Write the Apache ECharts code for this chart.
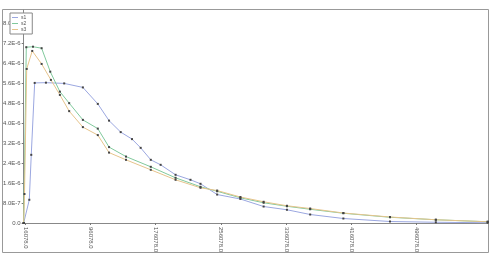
<!DOCTYPE html>
<html>
<head>
<meta charset="utf-8">
<script src="https://cdn.jsdelivr.net/npm/echarts@6/dist/echarts.min.js"></script>
<style>
  html, body { margin: 0; padding: 0; background: #fff; }
  #chart { width: 499px; height: 268px; }
</style>
</head>
<body>
<div id="chart"></div>
<script>
'use strict';

// tick positions on the x axis
var xTicks = [16078, 96078, 176078, 256078, 336078, 416078, 496078];

// series points, [x, y]
var s1 = [
    [14100, 0], [21000, 9.3e-7], [23400, 2.73e-6], [27600, 5.61e-6], [41400, 5.62e-6],
    [63800, 5.59e-6], [86700, 5.43e-6], [105000, 4.77e-6], [118800, 4.10e-6],
    [133100, 3.64e-6], [147000, 3.36e-6], [157600, 3.01e-6], [170000, 2.53e-6],
    [182100, 2.33e-6], [200400, 1.93e-6], [218700, 1.73e-6], [231000, 1.57e-6],
    [251400, 1.14e-6], [279900, 9.6e-7], [308400, 6.6e-7], [337000, 5.3e-7],
    [365500, 3.4e-7], [406200, 1.8e-7], [463400, 6e-8], [519600, 3e-8], [583200, 1e-8]
];
var s2 = [
    [14100, 0], [17300, 7.04e-6], [25500, 7.06e-6], [36100, 7.00e-6], [46700, 6.06e-6],
    [58500, 5.26e-6], [69900, 4.80e-6], [86700, 4.13e-6], [105000, 3.78e-6],
    [118800, 3.04e-6], [139600, 2.66e-6], [170000, 2.25e-6], [200400, 1.81e-6],
    [231000, 1.45e-6], [251400, 1.27e-6], [279900, 1.01e-6], [308400, 8.1e-7],
    [337000, 6.7e-7], [365500, 5.5e-7], [406200, 3.9e-7], [463400, 2.3e-7],
    [519600, 1.3e-7], [583200, 5e-8]
];
var s3 = [
    [14100, 0], [15100, 1.16e-6], [17800, 6.17e-6], [24600, 6.89e-6], [36100, 6.37e-6],
    [47500, 5.73e-6], [58500, 5.13e-6], [69900, 4.48e-6], [86700, 3.84e-6],
    [105000, 3.52e-6], [118800, 2.82e-6], [139600, 2.53e-6], [170000, 2.13e-6],
    [200400, 1.73e-6], [231000, 1.41e-6], [251400, 1.30e-6], [279900, 1.04e-6],
    [308400, 8.5e-7], [337000, 6.9e-7], [365500, 5.8e-7], [406200, 4.0e-7],
    [463400, 2.4e-7], [519600, 1.3e-7], [583200, 5e-8]
];

var names = ['s1', 's2', 's3'];
var colors = ['#9ba7e0', '#80c99c', '#e6c48c'];

// java style scientific label, e.g. 8.0E-7
function sciLabel(v) {
    if (v === 0) { return '0.0'; }
    var e = Math.floor(Math.log10(v) + 1e-9);
    var m = Math.round(v / Math.pow(10, e) * 10) / 10;
    return m.toFixed(1) + 'E' + e;
}

function makeSeries(name, data, color) {
    return {
        name: name,
        type: 'line',
        data: data,
        symbol: 'rect',
        symbolSize: 2,
        showSymbol: true,
        animation: false,
        lineStyle: { color: color, width: 1 },
        itemStyle: { color: '#444' },
        emphasis: { disabled: true }
    };
}

var chart = echarts.init(document.getElementById('chart'));

chart.setOption({
    backgroundColor: '#fff',
    animation: false,
    grid: { left: 23, top: 10, right: 11, bottom: 45 },
    legend: {
        orient: 'vertical',
        left: 10,
        top: 13,
        padding: [2, 6, 2, 2],
        itemGap: 1,
        itemWidth: 6,
        itemHeight: 1,
        backgroundColor: '#fff',
        borderColor: '#888',
        borderWidth: 1,
        textStyle: { fontSize: 5, color: '#555', padding: [0, 0, 0, -2] },
        data: names.map(function (n, i) {
            return { name: n, icon: 'rect', itemStyle: { color: colors[i] } };
        })
    },
    graphic: [{
        type: 'rect',
        shape: { x: 2.5, y: 9.5, width: 486, height: 243 },
        style: { fill: 'none', stroke: '#999', lineWidth: 1 },
        z: 0
    }],
    xAxis: {
        type: 'value',
        min: 14100,
        max: 583600,
        splitLine: { show: false },
        axisLine: { lineStyle: { color: '#888' } },
        axisTick: { customValues: xTicks, length: 2, lineStyle: { color: '#777' } },
        axisLabel: {
            customValues: xTicks,
            rotate: -90,
            fontSize: 6,
            color: '#555',
            margin: 4,
            formatter: function (v) { return v.toFixed(1); }
        }
    },
    yAxis: {
        type: 'value',
        min: 0,
        max: 8.53e-6,
        interval: 8e-7,
        splitLine: { show: false },
        axisLine: { show: true, lineStyle: { color: '#888' } },
        axisTick: { show: true, length: 2, lineStyle: { color: '#777' } },
        axisLabel: {
            fontSize: 6,
            color: '#555',
            margin: 3,
            showMaxLabel: false,
            formatter: sciLabel
        }
    },
    series: [
        makeSeries(names[0], s1, colors[0]),
        makeSeries(names[1], s2, colors[1]),
        makeSeries(names[2], s3, colors[2])
    ]
});
</script>
</body>
</html>
